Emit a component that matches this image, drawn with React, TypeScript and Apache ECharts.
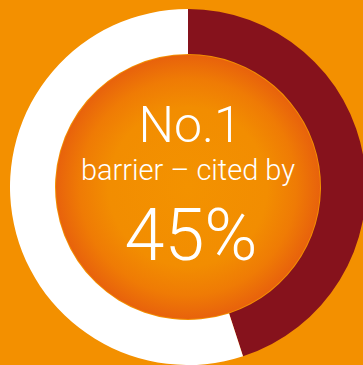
import React, { useEffect, useRef } from "react";
import * as echarts from "echarts";

const categories = ["Cited as No.1 barrier", "Other"];
const values = [45, 55];
const sliceColors = ["#86121C", "#FFFFFF"];
const headline = "No.1";
const subline = "barrier – cited by";
const percentLabel = "45%";

export default function App() {
  const ref = useRef<HTMLDivElement>(null);
  useEffect(() => {
    document.body.style.margin = "0";
    const chart = echarts.init(ref.current!, null, { renderer: "svg" });
    const cx = 188;
    const cy = 187;
    chart.setOption({
      animation: false,
      backgroundColor: "#F39000",
      series: [
        {
          type: "pie",
          center: [cx, cy],
          radius: [133, 178],
          startAngle: 90,
          clockwise: true,
          silent: true,
          label: { show: false },
          labelLine: { show: false },
          itemStyle: { borderWidth: 0 },
          data: categories.map((c, i) => ({
            name: c,
            value: values[i],
            itemStyle: { color: sliceColors[i] },
          })),
        },
      ],
      graphic: [
        {
          type: "circle",
          shape: { cx, cy, r: 132 },
          style: {
            fill: new echarts.graphic.RadialGradient(0.5, 0.5, 0.5, [
              { offset: 0, color: "#F39200" },
              { offset: 0.6, color: "#F28D01" },
              { offset: 0.82, color: "#EF7B05" },
              { offset: 1, color: "#E8620C" },
            ]),
          },
          z: 10,
        },
        {
          type: "text",
          x: 190,
          y: 150,
          z: 20,
          style: {
            text: headline,
            fill: "#FFFFFF",
            font: "300 50px Roboto",
            align: "center",
            verticalAlign: "bottom",
          },
        },
        {
          type: "text",
          x: 188,
          y: 184,
          z: 20,
          style: {
            text: subline,
            fill: "#FFFFFF",
            font: "300 29px Roboto",
            align: "center",
            verticalAlign: "bottom",
          },
        },
        {
          type: "text",
          x: 191,
          y: 271,
          z: 20,
          style: {
            text: percentLabel,
            fill: "#FFFFFF",
            font: "300 72px Roboto",
            align: "center",
            verticalAlign: "bottom",
          },
        },
      ],
    });
    return () => chart.dispose();
  }, []);
  return <div ref={ref} style={{ width: 363, height: 365 }} />;
}
